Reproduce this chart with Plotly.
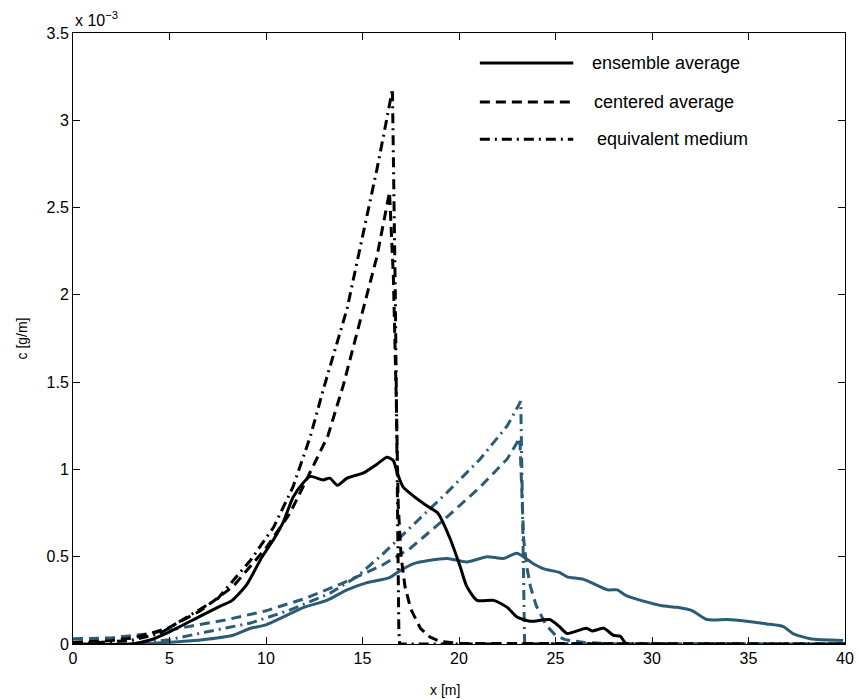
import plotly.graph_objects as go

# ---- data (c in units of 1e-3 g/m) ----
# black: time 1
ens1_x = [0, 3.0, 4.0, 5.0, 6.6, 7.5, 8.25, 9.0, 9.8, 10.4, 10.9, 11.4, 11.9, 12.3, 12.96, 13.3, 13.7, 14.2, 15.05,
          15.75, 16.27, 16.6, 16.8, 17.1, 17.5, 18.35, 18.9, 19.55, 20.07, 20.4, 20.94, 21.8, 22.5, 23.0, 23.7,
          24.7, 25.2, 25.6, 26.6, 26.9, 27.5, 28.0, 28.35, 28.7, 40]
ens1_y = [0, 0, 0.023, 0.07, 0.16, 0.21, 0.25, 0.34, 0.50, 0.60, 0.70, 0.84, 0.92, 0.96, 0.94, 0.95, 0.91, 0.95, 0.98,
          1.03, 1.07, 1.05, 0.98, 0.90, 0.86, 0.79, 0.75, 0.60, 0.44, 0.33, 0.25, 0.25, 0.21, 0.155, 0.13,
          0.14, 0.10, 0.06, 0.09, 0.075, 0.09, 0.05, 0.045, 0.0, 0]

cen1_x = [0, 2.0, 3.1, 4.0, 4.9, 6.6, 8.3, 10.0, 11.25, 12.1, 13.2, 14.0, 14.9, 15.75, 16.4,
          16.6, 16.75, 16.85, 17.0, 17.2, 17.5, 18.0, 18.5, 19.0, 20.0, 40]
cen1_y = [0.01, 0.02, 0.035, 0.06, 0.09, 0.19, 0.33, 0.55, 0.75, 0.94, 1.19, 1.48, 1.86, 2.22, 2.59,
          2.1, 1.4, 0.8, 0.5, 0.33, 0.2, 0.09, 0.04, 0.015, 0.003, 0]

eqm1_x = [0, 3.0, 4.5, 6.6, 7.5, 9.2, 10.4, 11.4, 12.3, 13.0, 14.2, 15.05, 15.75, 16.35, 16.55,
          16.7, 16.8, 16.88, 16.92, 40]
eqm1_y = [0, 0.02, 0.06, 0.2, 0.26, 0.48, 0.67, 0.9, 1.19, 1.47, 1.92, 2.36, 2.72, 3.06, 3.18,
          2.0, 0.8, 0.1, 0, 0]

# blue: time 2
ens2_x = [0, 3.6, 5.0, 6.6, 8.3, 9.2, 10.0, 10.9, 11.96, 13.15, 14.2, 15.2, 16.4, 16.8, 17.65, 18.5, 19.4, 20.4,
          21.45, 22.3, 23.0, 23.85, 24.4, 25.2, 25.6, 26.45, 27.7, 28.2, 28.7, 30.45, 31.3, 32.1, 32.85, 33.9,
          34.9, 35.95, 36.8, 37.3, 38.2, 39.9]
ens2_y = [0, 0, 0.01, 0.023, 0.05, 0.09, 0.11, 0.155, 0.21, 0.25, 0.31, 0.35, 0.38, 0.41, 0.46, 0.48, 0.49, 0.47,
          0.50, 0.49, 0.52, 0.46, 0.43, 0.41, 0.385, 0.37, 0.31, 0.31, 0.275, 0.22, 0.21, 0.19, 0.14, 0.14,
          0.13, 0.115, 0.10, 0.06, 0.03, 0.02]

cen2_x = [0, 2.0, 4.0, 6.0, 8.0, 10.0, 12.0, 14.0, 16.0, 17.5, 19.4, 21.1, 22.5, 23.15,
          23.25, 23.35, 23.5, 23.7, 24.0, 24.5, 25.0, 25.5, 26.5, 28.0, 40]
cen2_y = [0.03, 0.035, 0.06, 0.1, 0.14, 0.19, 0.26, 0.35, 0.45, 0.55, 0.73, 0.90, 1.06, 1.18,
          0.9, 0.6, 0.45, 0.33, 0.22, 0.11, 0.05, 0.025, 0.008, 0.002, 0]

eqm2_x = [0, 3.0, 4.0, 5.0, 6.95, 9.2, 11.25, 13.3, 14.7, 16.0, 17.6, 19.4, 21.1, 22.5, 23.2,
          23.3, 23.4, 40]
eqm2_y = [0, 0, 0.01, 0.025, 0.07, 0.12, 0.195, 0.29, 0.385, 0.51, 0.68, 0.87, 1.06, 1.25, 1.39,
          0.7, 0, 0]

x_ticks = [0, 5, 10, 15, 20, 25, 30, 35, 40]
y_ticks = [0, 0.5, 1, 1.5, 2, 2.5, 3, 3.5]
y_ticktext = ["0", "0.5", "1", "1.5", "2", "2.5", "3", "3.5"]
legend_labels = ["ensemble average", "centered average", "equivalent medium"]

BLACK = "#000000"
BLUE = "#2c5c75"
DASH = "10px,6px"
DASHDOT = "10px,5px,2px,5px"
FONT = "Liberation Sans, Arial, Helvetica, sans-serif"

fig = go.Figure()

def add(x, y, color, dash, width, shape="linear"):
    fig.add_trace(go.Scatter(x=x, y=y, mode="lines", showlegend=False, hoverinfo="skip",
                             line=dict(color=color, dash=dash, width=width, shape=shape,
                                       smoothing=0.6 if shape == "spline" else None)))

add(eqm2_x, eqm2_y, BLUE, DASHDOT, 3)
add(cen2_x, cen2_y, BLUE, DASH, 3)
add(ens2_x, ens2_y, BLUE, "solid", 3, "spline")
add(eqm1_x, eqm1_y, BLACK, DASHDOT, 3)
add(cen1_x, cen1_y, BLACK, DASH, 3)
add(ens1_x, ens1_y, BLACK, "solid", 3, "spline")

# legend drawn inside the axes (long line samples as in the original)
legend_styles = ["solid", DASH, DASHDOT]
legend_rows = [0.951, 0.887, 0.826]
legend_text_x = [0.670, 0.672, 0.676]
for label, st, yy, tx in zip(legend_labels, legend_styles, legend_rows, legend_text_x):
    fig.add_shape(type="line", xref="paper", yref="paper", x0=0.527, x1=0.648, y0=yy, y1=yy,
                  line=dict(color=BLACK, width=3, dash=st))
    fig.add_annotation(xref="paper", yref="paper", x=tx, y=yy, text=label, showarrow=False,
                       xanchor="left", yanchor="middle", font=dict(family=FONT, size=18, color=BLACK))

fig.add_annotation(xref="paper", yref="paper", x=0.0, y=1.0, text="x 10<sup>−3</sup>", showarrow=False,
                   xanchor="left", yanchor="bottom", yshift=2, font=dict(family=FONT, size=16, color=BLACK))

# axis titles
fig.add_annotation(xref="paper", yref="paper", x=0.4825, y=0, yshift=-46, text="x [m]", showarrow=False,
                   xanchor="center", yanchor="middle", font=dict(family=FONT, size=14, color=BLACK))
fig.add_annotation(xref="paper", yref="paper", x=0, xshift=-52, y=0.5, text="c [g/m]", showarrow=False,
                   textangle=-90, xanchor="center", yanchor="middle", font=dict(family=FONT, size=14, color=BLACK))

axis_common = dict(showgrid=False, zeroline=False, showline=True, linecolor=BLACK, linewidth=1,
                   mirror="ticks", ticks="inside", ticklen=7, tickcolor=BLACK, tickwidth=1, automargin=False,
                   tickfont=dict(family=FONT, size=16, color=BLACK))

fig.update_layout(
    width=859, height=699,
    margin=dict(l=73, r=14, t=33, b=55),
    plot_bgcolor="white", paper_bgcolor="white",
    xaxis=dict(range=[0, 40], tickvals=x_ticks, **axis_common),
    yaxis=dict(range=[0, 3.5], tickvals=y_ticks, ticktext=y_ticktext, **axis_common),
)

fig.write_html("out.html")
